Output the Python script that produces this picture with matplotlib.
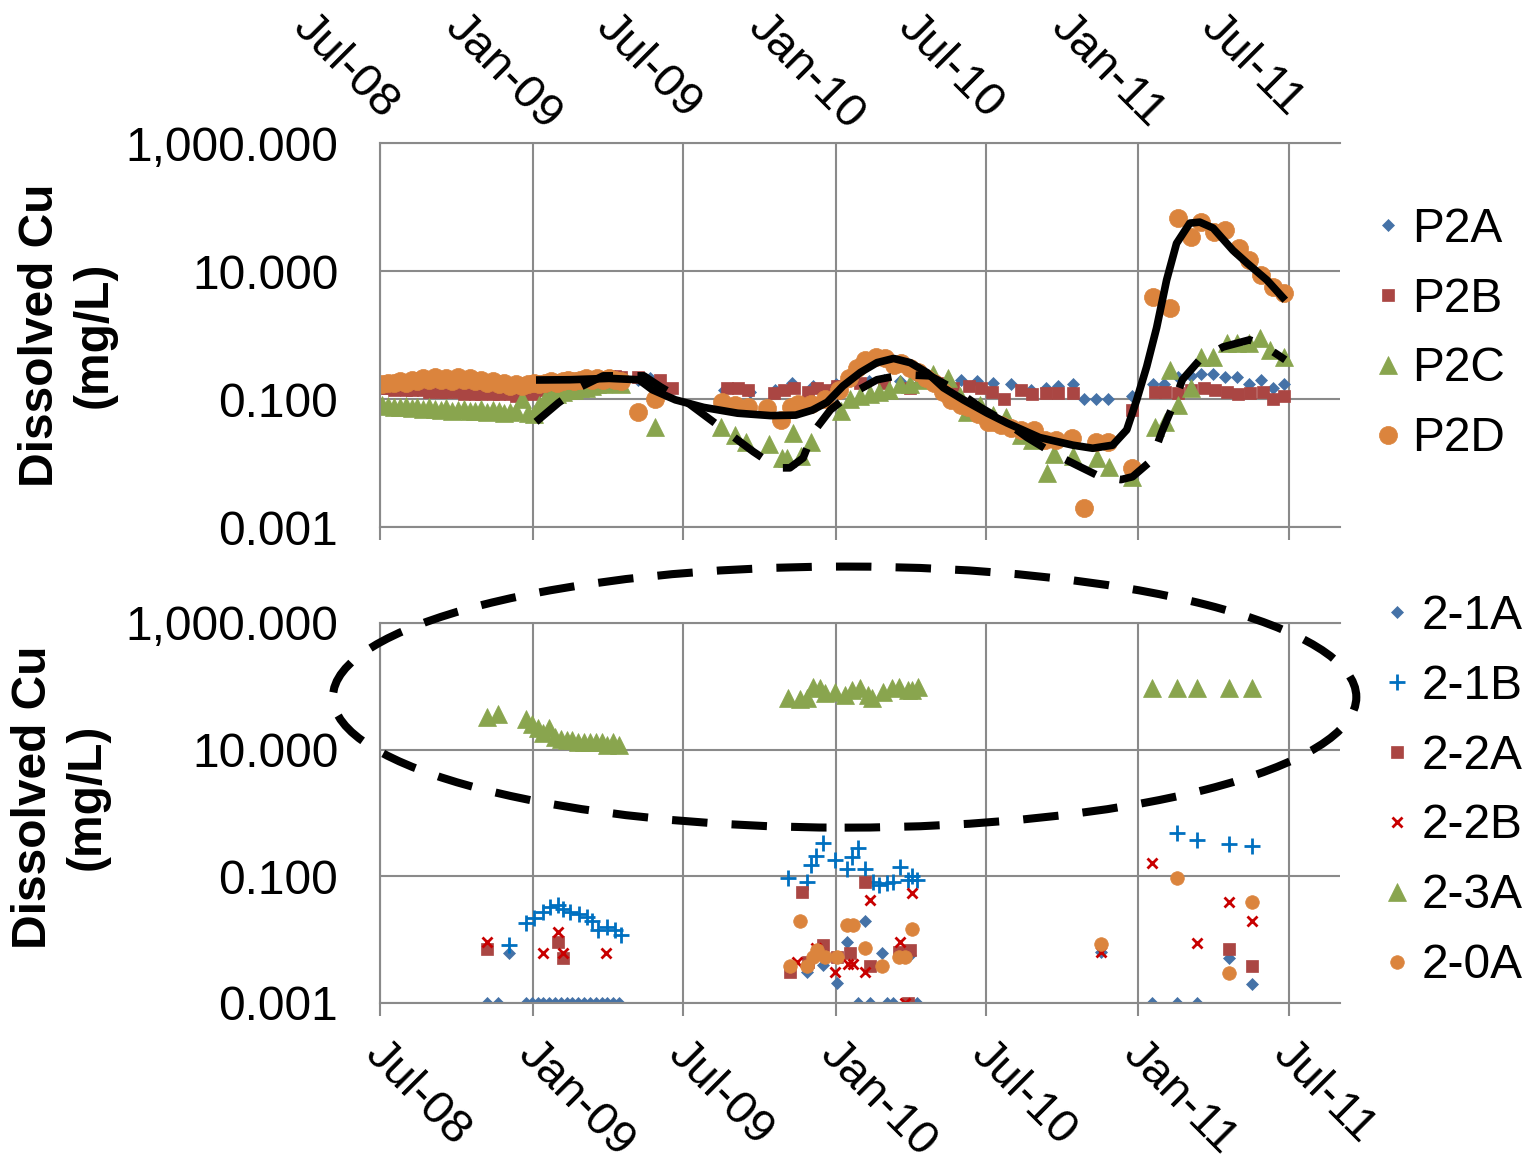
import pandas as pd
import matplotlib
matplotlib.use("Agg")
import matplotlib.pyplot as plt
import matplotlib.dates as mdates
from matplotlib.patches import Ellipse
from matplotlib.ticker import FixedLocator, FuncFormatter, NullLocator

plt.rcParams["font.family"] = ["Liberation Sans", "DejaVu Sans"]

# ---------------- top panel: P2 wells ----------------
wk08 = pd.date_range("2008-07-04", periods=27, freq="7D")
wk09 = pd.date_range("2009-01-09", periods=15, freq="7D")

p2a_08 = [0.16, 0.16, 0.15, 0.16, 0.16, 0.15, 0.16, 0.15, 0.15, 0.16, 0.16, 0.15, 0.15, 0.14,
          0.15, 0.13, 0.14, 0.13, 0.13, 0.14, 0.13, 0.15, 0.14, 0.15, 0.15, 0.14, 0.15]
p2a_09 = [0.15, 0.16, 0.17, 0.17, 0.18, 0.18, 0.19, 0.19, 0.20, 0.20, 0.21, 0.22, 0.22, 0.23, 0.22]
p2a_dates = ["2009-05-08", "2009-05-22", "2009-06-05", "2009-08-20", "2009-09-20", "2009-10-20",
             "2009-11-10", "2009-12-05", "2010-01-01", "2010-01-20", "2010-02-10", "2010-03-01",
             "2010-03-20", "2010-04-10", "2010-04-30", "2010-05-15", "2010-06-01", "2010-06-20",
             "2010-07-10", "2010-08-01", "2010-08-25", "2010-09-12", "2010-09-26", "2010-10-14",
             "2010-10-28", "2010-11-11", "2010-11-25", "2010-12-24", "2011-01-19", "2011-02-01",
             "2011-02-18", "2011-03-05", "2011-03-17", "2011-04-01", "2011-04-16", "2011-04-30",
             "2011-05-14", "2011-05-29", "2011-06-12", "2011-06-26"]
p2a_vals = [0.20, 0.21, 0.17, 0.14, 0.13, 0.14, 0.18, 0.16, 0.17, 0.20, 0.19, 0.20, 0.19, 0.21,
            0.20, 0.19, 0.20, 0.19, 0.18, 0.17, 0.14, 0.15, 0.16, 0.17, 0.10, 0.10, 0.10, 0.11,
            0.17, 0.17, 0.22, 0.23, 0.25, 0.25, 0.22, 0.22, 0.17, 0.20, 0.15, 0.17]

p2b_08 = [0.15, 0.15, 0.14, 0.15, 0.14, 0.14, 0.15, 0.14, 0.13, 0.14, 0.13, 0.13, 0.14, 0.13,
          0.12, 0.13, 0.12, 0.12, 0.13, 0.12, 0.12, 0.13, 0.12, 0.11, 0.12, 0.13, 0.12]
p2b_09 = [0.14, 0.15, 0.15, 0.16, 0.17, 0.17, 0.17, 0.18, 0.18, 0.19, 0.19, 0.20, 0.21, 0.23, 0.22]
p2b_dates = ["2009-05-08", "2009-06-03", "2009-06-18", "2009-08-23", "2009-09-05", "2009-09-18",
             "2009-10-19", "2009-10-31", "2009-11-12", "2009-11-29", "2009-12-10", "2009-12-22",
             "2010-01-03", "2010-01-30", "2010-03-01", "2010-04-01", "2010-05-03", "2010-05-22",
             "2010-06-11", "2010-06-25", "2010-07-08", "2010-07-23", "2010-08-12", "2010-08-26",
             "2010-09-12", "2010-09-26", "2010-10-14", "2010-12-24", "2011-01-21", "2011-02-02",
             "2011-02-18", "2011-03-05", "2011-03-21", "2011-04-03", "2011-04-18", "2011-05-01",
             "2011-05-16", "2011-05-31", "2011-06-12", "2011-06-26"]
p2b_vals = [0.22, 0.20, 0.15, 0.15, 0.15, 0.14, 0.125, 0.14, 0.15, 0.13, 0.15, 0.14, 0.16, 0.18,
            0.18, 0.15, 0.18, 0.15, 0.16, 0.15, 0.13, 0.10, 0.14, 0.12, 0.125, 0.125, 0.125, 0.068,
            0.13, 0.13, 0.125, 0.14, 0.15, 0.14, 0.13, 0.12, 0.125, 0.13, 0.10, 0.11]

p2c_08 = [0.080, 0.078, 0.075, 0.075, 0.078, 0.072, 0.075, 0.070, 0.075, 0.070, 0.068, 0.072,
          0.065, 0.068, 0.070, 0.065, 0.066, 0.070, 0.062, 0.068, 0.065, 0.060, 0.062, 0.065,
          0.100, 0.060, 0.058]
p2c_09 = [0.08, 0.10, 0.12, 0.12, 0.13, 0.14, 0.14, 0.15, 0.15, 0.16, 0.17, 0.17, 0.18, 0.18, 0.17]
p2c_dates = ["2009-05-29", "2009-08-16", "2009-09-02", "2009-09-15", "2009-10-13", "2009-10-28",
             "2009-11-03", "2009-11-11", "2009-11-20", "2009-12-02", "2010-01-08", "2010-01-18",
             "2010-01-30", "2010-02-11", "2010-02-23", "2010-03-07", "2010-03-20", "2010-04-01",
             "2010-04-13", "2010-04-28", "2010-05-16", "2010-05-31", "2010-06-08", "2010-06-24",
             "2010-07-10", "2010-07-25", "2010-08-12", "2010-08-26", "2010-09-13", "2010-09-21",
             "2010-10-14", "2010-11-12", "2010-11-26", "2010-12-24", "2011-01-21", "2011-02-02",
             "2011-02-08", "2011-02-18", "2011-03-05", "2011-03-17", "2011-04-01", "2011-04-18",
             "2011-04-30", "2011-05-14", "2011-05-28", "2011-06-09", "2011-06-25"]
p2c_vals = [0.037, 0.036, 0.027, 0.021, 0.020, 0.012, 0.012, 0.029, 0.013, 0.021, 0.066, 0.10,
            0.11, 0.12, 0.13, 0.14, 0.17, 0.17, 0.20, 0.25, 0.21, 0.11, 0.063, 0.08, 0.057, 0.052,
            0.027, 0.023, 0.0069, 0.014, 0.013, 0.012, 0.0088, 0.006, 0.036, 0.043, 0.28, 0.081,
            0.15, 0.46, 0.46, 0.75, 0.75, 0.75, 0.89, 0.58, 0.46]

p2d_08 = [0.17, 0.18, 0.18, 0.19, 0.18, 0.20, 0.19, 0.21, 0.20, 0.22, 0.20, 0.21, 0.19, 0.22,
          0.20, 0.21, 0.19, 0.20, 0.18, 0.19, 0.17, 0.18, 0.16, 0.17, 0.16, 0.17, 0.18]
p2d_09 = [0.17, 0.18, 0.19, 0.18, 0.19, 0.20, 0.19, 0.20, 0.21, 0.20, 0.21, 0.20, 0.21, 0.20, 0.19]
p2d_dates = ["2009-05-08", "2009-05-29", "2009-08-17", "2009-09-02", "2009-09-17", "2009-10-11",
             "2009-10-27", "2009-11-08", "2009-11-17", "2009-12-03", "2009-12-19", "2010-01-05",
             "2010-01-17", "2010-01-27", "2010-02-06", "2010-02-19", "2010-03-02", "2010-03-12",
             "2010-03-21", "2010-04-01", "2010-04-11", "2010-04-20", "2010-04-30", "2010-05-10",
             "2010-05-20", "2010-06-01", "2010-06-10", "2010-06-22", "2010-07-04", "2010-07-10",
             "2010-07-20", "2010-08-01", "2010-08-13", "2010-08-28", "2010-09-11", "2010-09-24",
             "2010-10-13", "2010-10-28", "2010-11-11", "2010-11-25", "2010-12-24", "2011-01-19",
             "2011-02-08", "2011-02-18", "2011-03-05", "2011-03-17", "2011-04-02", "2011-04-16",
             "2011-05-02", "2011-05-14", "2011-05-29", "2011-06-12", "2011-06-26"]
p2d_vals = [0.063, 0.10, 0.09, 0.08, 0.075, 0.072, 0.047, 0.075, 0.085, 0.085, 0.10, 0.14, 0.21,
            0.30, 0.41, 0.46, 0.43, 0.34, 0.37, 0.30, 0.26, 0.21, 0.18, 0.13, 0.097, 0.08, 0.075,
            0.059, 0.043, 0.044, 0.039, 0.035, 0.033, 0.033, 0.023, 0.023, 0.025, 0.002, 0.021,
            0.021, 0.0083, 3.9, 2.6, 68, 34, 58, 41, 44, 23, 15, 8.7, 5.6, 4.5]

# hand-drawn trend curves
solid_dates = ["2009-01-05", "2009-02-15", "2009-04-03", "2009-05-09", "2009-05-25", "2009-06-22",
               "2009-07-26", "2009-09-05", "2009-10-15", "2009-11-14", "2009-12-04", "2009-12-22",
               "2010-01-10", "2010-01-31", "2010-02-20", "2010-03-12", "2010-04-01", "2010-04-21",
               "2010-05-11", "2010-06-04", "2010-07-03", "2010-07-27", "2010-09-04", "2010-10-14",
               "2010-11-07", "2010-12-01", "2010-12-18", "2010-12-30", "2011-01-11", "2011-01-23",
               "2011-02-04", "2011-02-16", "2011-03-04", "2011-03-16", "2011-04-01", "2011-04-25",
               "2011-05-12", "2011-06-05", "2011-06-27"]
solid_vals = [0.198, 0.20, 0.21, 0.20, 0.14, 0.097, 0.074, 0.06, 0.055, 0.056, 0.067, 0.089,
              0.16, 0.26, 0.37, 0.43, 0.37, 0.26, 0.15, 0.097, 0.06, 0.042, 0.025, 0.019, 0.017,
              0.019, 0.033, 0.097, 0.32, 1.3, 7.2, 27, 56, 58, 47, 21, 13.3, 7.2, 3.5]
dash_dates = ["2009-01-05", "2009-02-01", "2009-02-28", "2009-03-27", "2009-05-15", "2009-06-04",
              "2009-07-07", "2009-07-31", "2009-08-27", "2009-09-24", "2009-10-23", "2009-11-07",
              "2009-11-23", "2009-12-05", "2009-12-26", "2010-01-18", "2010-02-20", "2010-03-23",
              "2010-04-25", "2010-05-27", "2010-06-24", "2010-07-27", "2010-08-20", "2010-09-21",
              "2010-10-19", "2010-11-16", "2010-12-11", "2010-12-25", "2011-01-17", "2011-01-29",
              "2011-02-11", "2011-02-23", "2011-03-16", "2011-04-13", "2011-05-15", "2011-05-31",
              "2011-06-27"]
dash_vals = [0.044, 0.087, 0.155, 0.23, 0.23, 0.155, 0.087, 0.051, 0.028, 0.015, 0.0084, 0.0084,
             0.012, 0.030, 0.068, 0.116, 0.20, 0.24, 0.23, 0.136, 0.075, 0.042, 0.025, 0.014,
             0.0092, 0.0061, 0.0055, 0.0061, 0.011, 0.030, 0.075, 0.20, 0.41, 0.65, 0.84, 0.70, 0.41]

# ---------------- bottom panel: wells 2-x ----------------
wk_b = pd.date_range("2008-12-24", periods=17, freq="7D")

s21a_dates = ["2008-11-07", "2008-11-20", "2008-12-04"] + list(wk_b.strftime("%Y-%m-%d")) + [
    "2009-11-28", "2009-12-17", "2010-01-03", "2010-01-15", "2010-01-28", "2010-02-05",
    "2010-02-11", "2010-02-26", "2010-03-04", "2010-03-11", "2010-04-01", "2010-04-09",
    "2010-11-17", "2011-01-18", "2011-02-16", "2011-03-13", "2011-04-20", "2011-05-18"]
s21a_vals = [0.001, 0.001, 0.0062,
             0.001, 0.001, 0.001, 0.001, 0.001, 0.001, 0.001, 0.001, 0.001, 0.001, 0.001, 0.001,
             0.001, 0.001, 0.001, 0.001, 0.001,
             0.0031, 0.004, 0.0021, 0.0092, 0.001, 0.02, 0.001, 0.0062, 0.001, 0.001, 0.0058, 0.001,
             0.0064, 0.001, 0.001, 0.001, 0.0051, 0.002]

s21b_dates = ["2008-12-04", "2008-12-24", "2009-01-02", "2009-01-13", "2009-01-22", "2009-02-01",
              "2009-02-07", "2009-02-15", "2009-02-26", "2009-03-07", "2009-03-14", "2009-03-21",
              "2009-04-01", "2009-04-10", "2009-04-18",
              "2009-11-05", "2009-11-28", "2009-12-03", "2009-12-09", "2009-12-17", "2009-12-31",
              "2010-01-15", "2010-01-21", "2010-01-28", "2010-02-05", "2010-02-15", "2010-02-23",
              "2010-03-04", "2010-03-11", "2010-03-20", "2010-03-29", "2010-04-03", "2010-04-09",
              "2011-02-16", "2011-03-13", "2011-04-20", "2011-05-18"]
s21b_vals = [0.0081, 0.018, 0.022, 0.027, 0.033, 0.035, 0.030, 0.027, 0.025, 0.023, 0.020, 0.014,
             0.016, 0.014, 0.012,
             0.093, 0.08, 0.15, 0.21, 0.34, 0.18, 0.13, 0.20, 0.28, 0.13, 0.08, 0.073, 0.078, 0.08,
             0.14, 0.088, 0.10, 0.088,
             0.48, 0.37, 0.32, 0.30]

s22a_dates = ["2008-11-07", "2009-02-01", "2009-02-07",
              "2009-11-07", "2009-11-22", "2009-11-29", "2009-12-17", "2010-01-03", "2010-01-18",
              "2010-02-05", "2010-02-11", "2010-03-18", "2010-03-29", "2010-04-01",
              "2011-04-20", "2011-05-18"]
s22a_vals = [0.0071, 0.0091, 0.0051,
             0.0031, 0.056, 0.0044, 0.0083, 0.0053, 0.0062, 0.08, 0.0039, 0.0064, 0.001, 0.0069,
             0.0071, 0.0039]

s22b_dates = ["2008-11-07", "2009-01-14", "2009-02-01", "2009-02-07", "2009-03-30",
              "2009-11-16", "2009-12-09", "2009-12-31", "2010-01-16", "2010-01-22", "2010-02-05",
              "2010-02-11", "2010-03-20", "2010-03-26", "2010-04-03",
              "2010-11-17", "2011-01-18", "2011-03-13", "2011-04-20", "2011-05-18"]
s22b_vals = [0.0093, 0.0062, 0.013, 0.0062, 0.0062,
             0.0045, 0.0075, 0.0031, 0.0042, 0.0042, 0.0031, 0.043, 0.0092, 0.001, 0.055,
             0.0064, 0.16, 0.0089, 0.039, 0.02]

s23a_dates = ["2008-11-07", "2008-11-20"] + list(wk_b.strftime("%Y-%m-%d")) + [
    "2009-11-05", "2009-11-19", "2009-11-28", "2009-12-05", "2009-12-13", "2009-12-19",
    "2009-12-31", "2010-01-12", "2010-01-21", "2010-01-30", "2010-02-09", "2010-02-14",
    "2010-02-27", "2010-03-10", "2010-03-18", "2010-03-29", "2010-04-03", "2010-04-11",
    "2011-01-18", "2011-02-16", "2011-03-13", "2011-04-20", "2011-05-18"]
s23a_vals = [33, 36,
             30, 25, 22, 18, 22, 16, 15, 14, 14, 13, 13, 13, 13, 13, 12, 13, 12,
             66, 62, 66, 97, 95, 79, 82, 73, 88, 95, 73, 66, 82, 95, 97, 88, 88, 97,
             94, 94, 94, 94, 94]

s20a_dates = ["2009-11-07", "2009-11-19", "2009-11-28", "2009-12-05", "2009-12-10", "2009-12-19",
              "2010-01-03", "2010-01-15", "2010-01-22", "2010-02-05", "2010-02-26", "2010-03-18",
              "2010-03-26", "2010-04-03",
              "2010-11-17", "2011-02-16", "2011-04-20", "2011-05-18"]
s20a_vals = [0.0039, 0.02, 0.0039, 0.0053, 0.0069, 0.0053, 0.0053, 0.017, 0.017, 0.0073, 0.0039,
             0.0053, 0.0053, 0.015,
             0.0085, 0.094, 0.003, 0.04]

x_ticks = pd.date_range("2008-07-01", "2011-07-01", freq="6MS")
y_ticks = [0.001, 0.1, 10, 1000]
x_min, x_max = pd.Timestamp("2008-07-01"), pd.Timestamp("2011-09-01")

GRID = "#8a8a8a"
FS = 34.5
XFS = 34

BLUE, RED, GREEN, ORANGE = "#4572A7", "#AA4643", "#89A54E", "#DB843D"
PLUS_BLUE, X_RED = "#0070C0", "#C80000"

W, H = 1538, 1166
fig = plt.figure(figsize=(W / 100, H / 100), dpi=100)
ax1 = fig.add_axes([380 / W, 1 - 527 / H, 960 / W, 384 / H])
ax2 = fig.add_axes([380 / W, 1 - 1003 / H, 960 / W, 380 / H])


def style(ax, top_labels):
    ax.set_yscale("log")
    ax.set_ylim(1e-3, 1e3)
    ax.set_xlim(x_min, x_max)
    ax.yaxis.set_major_locator(FixedLocator(y_ticks))
    ax.yaxis.set_minor_locator(NullLocator())
    ax.yaxis.set_major_formatter(FuncFormatter(lambda v, p: f"{v:,.3f}"))
    ax.xaxis.set_major_locator(FixedLocator(mdates.date2num(x_ticks)))
    ax.xaxis.set_minor_locator(NullLocator())
    ax.grid(True, color=GRID, lw=1.5)
    ax.set_axisbelow(True)
    ax.spines["right"].set_visible(False)
    for s in ("left", "bottom", "top"):
        ax.spines[s].set_color(GRID)
        ax.spines[s].set_linewidth(1.5)
    ax.tick_params(axis="y", length=0, pad=30, labelsize=FS)
    ax.tick_params(axis="x", length=9, width=1.5, color=GRID, direction="out",
                   labelbottom=False)
    for d in x_ticks:
        if top_labels:
            xy, off = (mdates.date2num(d), 1.0), (-58, 88)
        else:
            xy, off = (mdates.date2num(d), 0.0), (-6, -32)
        ax.annotate(d.strftime("%b-%y"), xy=xy, xycoords=("data", "axes fraction"),
                    xytext=off, textcoords="offset points", rotation=-45,
                    rotation_mode="anchor", ha="left", va="center", fontsize=XFS,
                    annotation_clip=False)


def pts(ax, dates, vals, marker, color, ms, label, mew=0.5):
    return ax.plot(pd.to_datetime(dates), vals, ls="none", marker=marker, ms=ms,
                   color=color, mec=color, mew=mew, label=label)[0]


style(ax1, True)
style(ax2, False)

# top panel
top_series = [
    (list(wk08) + list(wk09) + list(pd.to_datetime(p2a_dates)), p2a_08 + p2a_09 + p2a_vals,
     "D", BLUE, 6.6, "P2A"),
    (list(wk08) + list(wk09) + list(pd.to_datetime(p2b_dates)), p2b_08 + p2b_09 + p2b_vals,
     "s", RED, 8.6, "P2B"),
    (list(wk08) + list(wk09) + list(pd.to_datetime(p2c_dates)), p2c_08 + p2c_09 + p2c_vals,
     "^", GREEN, 13, "P2C"),
    (list(wk08) + list(wk09) + list(pd.to_datetime(p2d_dates)), p2d_08 + p2d_09 + p2d_vals,
     "o", ORANGE, 13, "P2D"),
]
h1 = [pts(ax1, *s) for s in top_series]

ax1.plot(pd.to_datetime(solid_dates), solid_vals, color="black", lw=5.5, zorder=5,
         solid_joinstyle="round", solid_capstyle="butt")
ax1.plot(pd.to_datetime(dash_dates), dash_vals, color="black", lw=5.5, zorder=5,
         dashes=(4.4, 3.2), dash_joinstyle="round")

# bottom panel
h2 = [
    pts(ax2, s21a_dates, s21a_vals, "D", BLUE, 6.6, "2-1A"),
    pts(ax2, s21b_dates, s21b_vals, "+", PLUS_BLUE, 12, "2-1B", mew=2.0),
    pts(ax2, s22a_dates, s22a_vals, "s", RED, 9.2, "2-2A"),
    pts(ax2, s22b_dates, s22b_vals, "x", X_RED, 7.5, "2-2B", mew=2.0),
    pts(ax2, s23a_dates, s23a_vals, "^", GREEN, 13, "2-3A"),
    pts(ax2, s20a_dates, s20a_vals, "o", ORANGE, 9.8, "2-0A"),
]

ax2.add_patch(Ellipse((0.484, 0.805), 1.066, 0.687, transform=ax2.transAxes, fill=False,
                      ec="black", lw=5.8, ls=(0, (4.4, 3.0)), clip_on=False, zorder=6))

leg_kw = dict(loc="center left", bbox_transform=fig.transFigure, frameon=False, fontsize=FS,
              handlelength=0.8, handletextpad=0.1, labelspacing=0.52, borderpad=0,
              borderaxespad=0, numpoints=1)
ax1.legend(handles=h1, bbox_to_anchor=(1369 / W, 1 - 334 / H), **leg_kw)
ax2.legend(handles=h2, bbox_to_anchor=(1378 / W, 1 - 791 / H), **leg_kw)

fig.text(67 / W, 1 - 335 / H, "Dissolved Cu\n(mg/L)", rotation=90, ha="center", va="center",
         fontsize=FS, fontweight="bold", linespacing=1.25)
fig.text(60 / W, 1 - 797 / H, "Dissolved Cu\n(mg/L)", rotation=90, ha="center", va="center",
         fontsize=FS, fontweight="bold", linespacing=1.25)

fig.savefig("out.png", dpi=100)
